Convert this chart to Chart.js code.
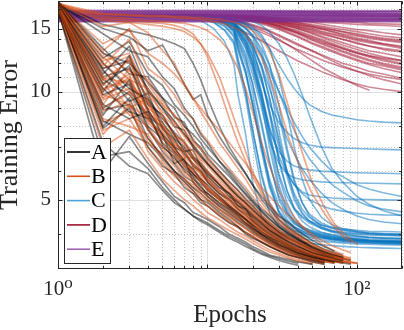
<!DOCTYPE html>
<html><head><meta charset="utf-8">
<script src="https://cdn.jsdelivr.net/npm/chart.js@4.4.1/dist/chart.umd.min.js"></script>
<style>html,body{margin:0;padding:0;background:#fff;}canvas{display:block;}</style>
</head><body>
<canvas id="c" width="404" height="330"></canvas>
<script>
// ---------- data ----------
const seriesNames = ['A', 'B', 'C', 'D', 'E'];
const xTickValues = [1, 100];
const xTickLabels = ['10⁰', '10²'];
const yTickValues = [5, 10, 15];
const yTickLabels = ['5', '10', '15'];

const epochsAB = [1,2,3,4,5,6,7,8,9,10,12,14,16,18,20,23,26,30,35,40,50,60,70,80,90,100];
const runsA = [
 [17.6,10.5,11.8,8.9,7.6,7.0,6.4,6.1,5.7,5.5,5.1,4.8,4.6,4.4,4.2,4.0,3.9,3.75,3.65,3.55,3.45,3.4,3.35],
 [17.2,8.0,9.6,7.4,6.6,6.0,5.6,5.3,5.0,4.9,4.6,4.4,4.2,4.0,3.9,3.8,3.7,3.6,3.5,3.45,3.38,3.33],
 [17.8,12.0,10.2,9.5,8.2,7.4,7.0,6.5,6.2,5.9,5.5,5.1,4.9,4.7,4.5,4.3,4.1,3.95,3.8,3.7,3.55,3.48,3.42,3.38],
 [16.9,6.0,7.5,6.3,5.6,5.1,4.9,4.6,4.5,4.4,4.2,4.0,3.9,3.8,3.7,3.6,3.5,3.45,3.4,3.35,3.3],
 [17.5,11.2,13.4,10.0,9.0,8.0,7.8,7.0,6.6,6.3,5.8,5.4,5.1,4.9,4.7,4.45,4.25,4.05,3.9,3.8,3.62,3.52,3.45],
 [17.0,9.2,8.4,8.8,7.1,6.5,6.1,5.8,5.4,5.2,4.9,4.7,4.5,4.3,4.15,4.0,3.85,3.72,3.62,3.55,3.45,3.38],
 [17.7,10.0,12.6,9.2,8.6,7.6,6.8,6.9,6.2,5.8,5.4,5.2,4.8,4.7,4.4,4.2,4.05,3.9,3.75,3.65,3.5,3.42,3.37,3.33,3.3],
 [17.3,7.9,9.0,7.0,6.2,5.9,5.4,5.2,4.9,4.8,4.5,4.3,4.2,4.05,3.95,3.8,3.7,3.6,3.5,3.45,3.35,3.3],
 [17.6,14.5,13.0,12.5,11.0,10.2,9.0,8.4,7.6,7.2,6.4,6.0,5.6,5.3,5.0,4.7,4.5,4.25,4.05,3.9,3.7,3.58,3.5,3.45],
 [17.1,9.8,10.5,8.0,7.4,6.8,6.3,5.9,5.6,5.3,5.0,4.75,4.55,4.4,4.25,4.05,3.92,3.8,3.68,3.6,3.48,3.4,3.35],
 [17.4,11.5,9.4,9.9,7.9,7.3,6.7,6.3,6.0,5.6,5.2,5.0,4.7,4.55,4.35,4.15,4.0,3.85,3.72,3.62,3.5,3.42],
 [16.8,7.2,6.2,5.9,5.3,4.9,4.7,4.5,4.4,4.3,4.1,3.95,3.85,3.75,3.65,3.55,3.48,3.42,3.36,3.32],
 [17.9,12.8,12.0,10.6,9.6,8.5,8.2,7.3,7.0,6.5,6.0,5.6,5.3,5.0,4.8,4.5,4.3,4.1,3.95,3.85,3.65,3.55,3.48,3.42,3.38],
 [17.2,8.6,10.8,7.8,7.0,6.6,6.0,5.7,5.5,5.1,4.8,4.6,4.4,4.25,4.1,3.95,3.82,3.7,3.6,3.52,3.42,3.36,3.32],
 [17.5,15.0,14.2,13.0,13.5,11.8,10.5,9.5,9.8,8.6,7.5,6.8,6.3,5.9,5.5,5.1,4.8,4.5,4.3,4.1,3.85,3.7,3.6],
 [17.0,10.2,8.8,8.4,7.6,6.3,6.5,5.6,5.3,5.2,4.85,4.65,4.45,4.3,4.15,3.98,3.86,3.74,3.64,3.56,3.46,3.4,3.36,3.33],
 [17.4,9.0,10.0,8.6,7.2,6.7,6.2,5.9,5.6,5.35,5.0,4.75,4.55,4.4,4.25,4.06,3.93,3.8,3.68,3.6,3.48,3.41,3.36],
 [17.6,11.0,11.6,9.6,8.4,7.7,7.2,6.6,6.3,6.0,5.5,5.2,4.95,4.75,4.55,4.35,4.18,4.0,3.86,3.76,3.6,3.5,3.44,3.4],
 [17.1,8.3,7.6,7.2,6.5,6.0,5.7,5.4,5.2,5.0,4.7,4.5,4.32,4.18,4.05,3.9,3.78,3.67,3.56,3.49,3.4,3.34],
 [17.8,13.2,11.2,11.0,9.6,9.0,8.0,7.6,7.2,6.7,6.2,5.8,5.45,5.15,4.9,4.62,4.4,4.18,4.0,3.88,3.68,3.57,3.5,3.45],
 [17.3,10.8,9.8,8.5,8.0,7.0,6.8,6.2,6.0,5.7,5.3,5.0,4.8,4.6,4.45,4.25,4.1,3.94,3.8,3.7,3.55,3.46,3.4],
 [17.5,12.4,13.8,11.2,10.4,9.2,8.6,8.0,7.4,7.0,6.4,5.9,5.5,5.2,4.95,4.65,4.42,4.2,4.0,3.88,3.68,3.56,3.49,3.44],
 [17.0,8.9,9.2,7.9,6.8,6.3,5.8,5.6,5.3,5.1,4.78,4.56,4.38,4.24,4.1,3.94,3.82,3.7,3.59,3.51,3.41,3.35],
 [17.7,11.6,12.2,10.2,9.0,8.3,7.6,7.1,6.7,6.3,5.8,5.4,5.1,4.88,4.66,4.42,4.24,4.05,3.9,3.79,3.62,3.52,3.45,3.4],
 [16.9,6.6,6.8,6.1,5.4,5.0,4.7,4.5,4.35,4.25,4.05,3.9,3.8,3.7,3.62,3.52,3.45,3.38,3.32,3.28],
 [17.6,15.4,14.8,14.4,14.0,13.6,13.2,12.0,10.8,9.6,8.0,7.0,6.4,5.9,5.5,5.0,4.7,4.4,4.15,4.0,3.78,3.64,3.56,3.5]
];
const runsB = [
 [17.4,10.8,12.2,9.4,8.0,7.2,6.8,6.3,6.0,5.7,5.3,5.0,4.75,4.55,4.4,4.2,4.05,3.9,3.75,3.65,3.52,3.45,3.4],
 [17.0,9.0,9.9,7.8,6.9,6.4,5.9,5.6,5.3,5.1,4.8,4.55,4.4,4.25,4.1,3.95,3.82,3.7,3.6,3.52,3.42,3.36,3.32],
 [17.6,11.8,14.0,10.5,9.2,8.6,7.8,7.2,6.9,6.4,5.9,5.5,5.2,4.95,4.75,4.5,4.3,4.1,3.92,3.82,3.64,3.54,3.47,3.42,3.38],
 [17.2,8.4,8.0,7.6,6.4,5.9,5.6,5.3,5.0,4.8,4.55,4.35,4.2,4.05,3.95,3.82,3.72,3.62,3.52,3.46,3.38,3.32],
 [17.8,12.5,10.8,10.2,8.6,8.0,7.2,6.8,6.4,6.0,5.6,5.3,5.0,4.8,4.6,4.38,4.2,4.02,3.88,3.78,3.6,3.5,3.44,3.4],
 [17.3,10.0,11.2,8.3,7.7,6.9,6.5,6.0,5.8,5.4,5.1,4.85,4.65,4.45,4.3,4.12,3.98,3.84,3.7,3.62,3.5,3.42,3.38],
 [17.5,11.0,9.0,9.6,7.4,7.0,6.2,6.1,5.6,5.4,5.0,4.8,4.55,4.4,4.22,4.05,3.9,3.78,3.66,3.58,3.46,3.4,3.35,3.32],
 [16.9,7.6,9.2,6.8,6.1,5.6,5.3,5.0,4.8,4.6,4.4,4.2,4.05,3.95,3.85,3.72,3.62,3.54,3.46,3.4,3.32],
 [17.7,15.2,15.6,14.6,13.0,12.0,10.5,9.6,8.8,8.2,7.2,6.6,6.1,5.7,5.3,4.9,4.6,4.35,4.12,3.98,3.76,3.62,3.54,3.48,3.44],
 [17.1,9.5,10.2,8.6,7.2,6.7,6.2,5.8,5.6,5.3,5.0,4.7,4.5,4.35,4.18,4.0,3.88,3.75,3.64,3.56,3.45,3.38,3.34],
 [17.6,12.2,12.8,9.8,8.8,8.2,7.5,7.0,6.5,6.2,5.7,5.35,5.05,4.85,4.62,4.4,4.22,4.04,3.9,3.8,3.62,3.52,3.46,3.41],
 [17.5,16.0,15.8,15.6,15.5,15.3,15.0,14.5,13.6,12.5,10.2,8.4,7.2,6.4,5.8,5.2,4.8,4.4,4.1,3.95,3.7,3.58,3.5,3.45],
 [17.2,10.6,8.6,8.0,7.0,6.6,6.0,5.7,5.4,5.2,4.9,4.65,4.45,4.3,4.15,3.98,3.86,3.74,3.63,3.55,3.45,3.38,3.33],
 [17.4,9.2,11.6,8.8,7.9,7.4,6.6,6.5,6.0,5.7,5.3,5.05,4.8,4.6,4.42,4.22,4.06,3.9,3.76,3.67,3.53,3.45,3.4,3.36,3.33],
 [16.8,7.0,7.8,6.5,5.7,5.3,5.0,4.8,4.6,4.45,4.25,4.1,3.98,3.88,3.78,3.66,3.57,3.5,3.43,3.37,3.3],
 [17.6,16.2,16.0,15.8,15.7,15.6,15.5,15.3,15.1,14.8,14.0,13.0,11.6,10.2,8.8,7.2,6.2,5.3,4.7,4.35,3.95,3.72,3.6,3.52],
 [17.0,11.4,10.0,9.0,8.4,7.6,7.1,6.6,6.2,5.9,5.5,5.2,4.95,4.75,4.55,4.32,4.15,3.98,3.84,3.74,3.58,3.49,3.43,3.39],
 [17.5,10.4,12.4,8.6,8.2,7.1,6.9,6.2,5.9,5.6,5.2,4.95,4.7,4.5,4.35,4.15,4.0,3.86,3.73,3.64,3.5,3.43,3.38,3.35,3.32],
 [17.3,8.8,9.4,7.2,6.7,6.2,5.7,5.5,5.2,5.0,4.7,4.5,4.3,4.15,4.02,3.88,3.76,3.66,3.56,3.49,3.4,3.34],
 [17.6,13.6,14.8,12.8,12.0,11.2,10.4,9.6,9.0,8.5,7.8,7.2,6.7,6.3,5.9,5.4,5.1,4.8,4.5,4.3,4.0,3.82,3.7,3.62,3.56],
 [17.4,16.4,16.3,16.2,16.2,16.1,16.0,16.0,15.9,15.8,15.6,15.3,14.9,14.4,13.6,12.4,11.0,9.2,7.4,6.4,5.2,4.6,4.2,3.95,3.8],
 [17.1,9.6,11.0,8.2,7.5,6.9,6.4,6.0,5.7,5.45,5.05,4.8,4.6,4.42,4.28,4.1,3.96,3.83,3.7,3.62,3.5,3.43,3.39,3.36,3.34,3.32],
 [17.5,12.0,10.4,9.2,8.0,7.6,6.9,6.5,6.1,5.8,5.4,5.1,4.85,4.65,4.48,4.28,4.12,3.96,3.82,3.72,3.56,3.48,3.42,3.38,3.35,3.33],
 [17.3,10.2,10.8,8.9,7.8,7.1,6.6,6.2,5.9,5.6,5.2,4.9,4.7,4.5,4.35,4.15,4.0,3.86,3.73,3.64,3.51,3.44,3.39,3.36],
 [17.6,11.6,12.6,10.0,9.2,8.2,7.6,7.1,6.6,6.3,5.8,5.45,5.15,4.9,4.7,4.45,4.26,4.06,3.9,3.8,3.62,3.52,3.46,3.42,3.39],
 [17.0,8.2,8.8,7.4,6.6,6.0,5.7,5.4,5.1,4.95,4.65,4.45,4.28,4.14,4.02,3.88,3.76,3.65,3.55,3.48,3.39,3.33],
 [17.5,12.8,11.4,10.8,9.4,8.6,8.0,7.4,6.9,6.6,6.0,5.6,5.3,5.05,4.82,4.56,4.35,4.14,3.96,3.85,3.66,3.55,3.48,3.43,3.4],
 [17.2,9.8,9.2,8.4,7.5,6.8,6.4,5.9,5.7,5.4,5.05,4.8,4.58,4.42,4.28,4.1,3.96,3.82,3.7,3.61,3.49,3.42,3.37,3.34],
 [17.7,13.0,15.0,11.6,10.8,9.8,8.8,8.4,7.7,7.3,6.6,6.1,5.7,5.4,5.1,4.78,4.52,4.28,4.06,3.93,3.72,3.6,3.52,3.46,3.42],
 [17.1,7.8,8.4,7.0,6.3,5.8,5.5,5.2,5.0,4.8,4.52,4.32,4.17,4.04,3.93,3.8,3.7,3.6,3.5,3.44,3.35,3.3],
 [17.5,15.8,15.6,15.4,15.2,15.0,14.7,14.2,13.6,12.8,11.0,9.2,7.8,6.8,6.0,5.3,4.9,4.5,4.2,4.02,3.76,3.62,3.54,3.48],
 [17.4,10.9,10.6,9.3,8.6,7.5,7.3,6.6,6.3,5.95,5.5,5.2,4.92,4.7,4.52,4.3,4.13,3.96,3.82,3.72,3.56,3.47,3.41,3.37,3.34,3.32],
 [17.6,16.5,16.4,16.3,16.3,16.2,16.2,16.1,16.1,16.0,15.9,15.7,15.5,15.2,14.8,14.0,13.0,11.2,9.0,7.4,5.6,4.8,4.3,4.05,3.88,3.76]
];

const epochsC = [1,5,9,11,13,15,16,18,20,23,26,30,34,38,43,48,58,68,80,100,120,150,200];
const runsC = [
 [16.2,16.2,15.8,15.0,13.8,12.0,9.8,7.6,5.6,4.5,4.15,3.98,3.9,3.85,3.8,3.78,3.74,3.72,3.7,3.68,3.67,3.66,3.65],
 [16.3,16.3,16.0,15.6,14.8,13.6,11.8,9.6,7.4,5.4,4.6,4.2,4.05,3.95,3.9,3.86,3.82,3.8,3.78,3.76,3.75,3.74,3.73],
 [16.2,16.2,16.1,15.9,15.5,14.8,13.6,12.0,10.0,7.2,5.6,4.6,4.25,4.1,4.0,3.95,3.9,3.86,3.84,3.82,3.8,3.79,3.78],
 [16.3,16.3,16.2,16.0,15.8,15.3,14.6,13.5,12.0,9.6,7.4,5.5,4.7,4.35,4.15,4.05,3.95,3.9,3.87,3.84,3.82,3.8,3.79],
 [16.2,16.2,16.1,16.0,15.9,15.6,15.1,14.3,13.2,11.0,8.8,6.5,5.3,4.7,4.35,4.2,4.05,3.98,3.93,3.88,3.85,3.83,3.82],
 [16.3,16.3,16.2,16.1,16.0,15.8,15.5,15.0,14.2,12.6,10.5,7.8,6.0,5.1,4.6,4.35,4.15,4.05,4.0,3.95,3.92,3.9,3.88],
 [16.2,16.2,16.2,16.1,16.0,15.9,15.7,15.4,14.8,13.6,11.9,9.2,7.0,5.7,4.9,4.5,4.2,4.08,4.02,3.96,3.93,3.91,3.9],
 [16.3,16.3,16.2,16.1,15.9,15.6,15.1,14.4,13.4,11.8,10.2,8.5,7.4,6.7,6.1,5.7,5.2,4.9,4.7,4.5,4.4,4.33,4.28],
 [16.2,16.2,16.0,15.7,15.2,14.4,13.0,11.2,9.2,7.0,5.7,4.8,4.4,4.2,4.08,4.0,3.92,3.87,3.84,3.8,3.78,3.77,3.76],
 [16.3,16.3,16.2,16.1,16.0,15.9,15.7,15.4,15.0,14.2,13.2,11.9,10.9,10.2,9.6,9.2,8.8,8.6,8.5,8.35,8.28,8.22,8.18],
 [16.2,16.2,16.1,16.0,15.8,15.4,14.8,13.8,12.5,10.6,9.2,8.2,7.7,7.4,7.2,7.1,7.0,6.98,6.96,6.94,6.92,6.9,6.88],
 [16.3,16.3,16.2,16.0,15.7,15.2,14.4,13.2,11.6,9.4,7.8,6.8,6.4,6.2,6.1,6.05,6.0,5.98,5.96,5.94,5.93,5.92,5.9],
 [16.2,16.2,16.1,15.9,15.6,15.0,14.1,12.8,11.2,9.0,7.3,6.3,5.9,5.75,5.68,5.64,5.6,5.58,5.57,5.56,5.55,5.54,5.53],
 [16.3,16.3,16.2,16.1,15.9,15.5,14.9,14.0,12.8,10.8,8.8,7.0,6.0,5.5,5.25,5.15,5.08,5.05,5.03,5.01,5.0,4.99,4.98],
 [16.2,16.2,16.2,16.1,16.0,15.7,15.3,14.6,13.6,11.8,9.6,7.2,5.8,5.0,4.55,4.35,4.18,4.1,4.06,4.02,4.0,3.98,3.97],
 [16.3,16.3,16.2,16.2,16.1,16.0,15.8,15.6,15.2,14.4,13.2,11.0,8.8,7.0,5.7,5.0,4.45,4.25,4.15,4.08,4.04,4.02,4.0],
 [16.2,16.2,16.1,15.8,15.3,14.2,12.4,10.0,7.8,5.9,4.9,4.4,4.2,4.1,4.03,3.98,3.92,3.88,3.86,3.84,3.83,3.82,3.81],
 [16.3,16.3,16.2,16.2,16.2,16.1,16.0,15.9,15.7,15.3,14.7,13.6,12.4,11.2,9.8,8.6,7.0,6.1,5.6,5.1,4.85,4.65,4.5],
 [16.2,16.2,16.1,16.0,15.7,15.1,14.0,12.5,10.5,8.0,6.3,5.1,4.6,4.35,4.2,4.12,4.04,3.99,3.96,3.93,3.91,3.9,3.89],
 [16.3,16.3,16.2,16.1,16.0,15.7,15.2,14.5,13.5,11.6,9.6,7.4,6.0,5.2,4.7,4.45,4.25,4.15,4.1,4.05,4.02,4.0,3.99],
 [16.2,16.2,16.1,16.0,15.8,15.5,15.1,14.5,13.8,12.6,11.4,10.0,9.0,8.2,7.5,7.0,6.4,6.0,5.8,5.5,5.35,5.22,5.1],
 [16.3,16.3,16.2,16.0,15.6,14.8,13.4,11.4,9.2,6.8,5.4,4.6,4.3,4.15,4.06,4.0,3.93,3.89,3.86,3.83,3.81,3.8,3.79],
 [16.2,16.2,16.1,16.0,15.8,15.3,14.5,13.3,11.8,9.3,7.0,5.3,4.6,4.3,4.15,4.06,3.96,3.91,3.88,3.85,3.83,3.82,3.81],
 [16.3,16.3,16.2,16.1,15.9,15.6,15.0,14.0,12.6,10.0,7.8,5.8,4.9,4.45,4.2,4.1,4.0,3.94,3.9,3.86,3.84,3.83,3.82],
 [16.2,16.2,16.0,15.6,14.9,13.8,12.2,10.0,7.9,5.8,4.8,4.3,4.12,4.02,3.96,3.92,3.86,3.83,3.81,3.79,3.78,3.77,3.76],
 [16.3,16.3,16.2,16.2,16.1,15.9,15.6,15.1,14.4,12.9,11.0,8.6,6.8,5.6,4.9,4.55,4.3,4.18,4.12,4.06,4.03,4.01,4.0],
 [16.2,16.2,16.1,15.9,15.6,14.9,13.8,12.3,10.6,8.2,6.4,5.0,4.5,4.28,4.16,4.08,4.0,3.95,3.92,3.89,3.87,3.86,3.85],
 [16.3,16.3,16.2,16.1,15.9,15.5,14.8,13.7,12.2,9.8,8.0,6.6,5.9,5.5,5.2,5.0,4.8,4.7,4.64,4.58,4.55,4.53,4.52],
 [16.2,16.2,16.1,16.0,15.8,15.4,14.7,13.6,12.1,9.8,7.6,5.9,5.1,4.7,4.48,4.36,4.24,4.18,4.14,4.1,4.08,4.07,4.06],
 [16.3,16.3,16.2,16.1,15.9,15.6,15.1,14.3,13.1,10.9,8.6,6.4,5.3,4.75,4.45,4.3,4.15,4.08,4.04,4.0,3.98,3.97,3.96],
 [16.2,16.2,16.1,15.9,15.5,14.6,13.2,11.4,9.4,7.0,5.5,4.65,4.35,4.2,4.1,4.04,3.97,3.93,3.9,3.87,3.85,3.84,3.83],
 [16.3,16.3,16.2,16.1,16.0,15.8,15.5,15.0,14.4,13.2,11.8,10.0,8.7,7.8,7.0,6.5,5.9,5.5,5.25,4.95,4.8,4.7,4.62]
];

const epochsD = [1,5,10,15,20,25,30,40,50,60,80,100,120,150,200];
const runsD = [
 [16.3,16.3,16.3,16.2,16.0,15.8,15.6,15.2,14.9,14.6,14.2,13.9,13.7,13.5,13.2],
 [16.3,16.3,16.1,15.6,15.0,14.4,13.9,13.1,12.6,12.2,11.7,11.4,11.2,11.0,10.8],
 [16.3,16.3,16.3,16.3,16.2,16.1,16.0,15.8,15.7,15.6,15.5,15.4,15.35,15.3,15.2],
 [16.3,16.3,16.3,16.1,15.9,15.6,15.3,14.8,14.3,13.9,13.3,12.9,12.6,12.3,12.0],
 [16.3,16.3,16.0,15.2,14.3,13.6,13.0,12.2,11.7,11.3,10.8,10.5,10.3,10.15,10.0],
 [16.3,16.3,16.3,16.2,16.1,15.9,15.7,15.4,15.1,14.9,14.5,14.3,14.1,13.9,13.7],
 [16.3,16.3,16.3,16.2,16.0,15.7,15.4,15.0,14.6,14.2,13.7,13.3,13.0,12.8,12.5],
 [16.3,16.3,16.3,16.3,16.2,16.1,16.0,15.8,15.6,15.4,15.1,14.9,14.8,14.6,14.4],
 [16.3,16.3,16.2,16.1,15.8,15.5,15.1,14.5,13.9,13.5,12.9,12.5,12.2,11.9,11.6],
 [16.3,16.3,16.3,16.2,16.1,16.0,15.9,15.6,15.4,15.2,14.9,14.7,14.5,14.3,14.1],
 [16.3,16.3,16.3,16.2,15.9,15.6,15.2,14.6,14.1,13.7,13.2,12.8,12.6,12.4,12.2],
 [16.3,16.3,16.2,15.8,15.3,14.8,14.3,13.5,13.0,12.6,12.0,11.7,11.4,11.2,10.9],
 [16.3,16.3,16.3,16.3,16.2,16.2,16.1,16.0,15.9,15.8,15.7,15.6,15.5,15.45,15.4],
 [16.3,16.3,16.3,16.2,16.1,15.9,15.6,15.2,14.8,14.5,14.0,13.6,13.4,13.1,12.9],
 [16.3,16.3,16.2,15.8,15.2,14.6,14.0,13.0,12.2,11.6,10.9,10.4,10.1],
 [16.3,16.3,16.3,16.1,15.8,15.4,15.0,14.3,13.7,13.3,12.7,12.3,12.0,11.8,11.5],
 [16.3,16.3,16.3,16.2,16.1,15.9,15.7,15.3,15.0,14.7,14.3,14.0,13.8,13.6,13.4],
 [16.3,16.3,16.3,16.2,16.0,15.8,15.5,15.1,14.7,14.4,14.0,13.7,13.4,13.2,13.0],
 [16.3,16.3,16.3,16.2,16.0,15.7,15.3,14.7,14.2,13.8,13.2,12.8,12.5,12.2,11.9],
 [16.3,16.3,16.3,16.3,16.2,16.0,15.8,15.5,15.2,14.9,14.4,14.1,13.9,13.6,13.3],
 [16.3,16.3,16.2,16.0,15.7,15.3,14.9,14.2,13.6,13.2,12.6,12.2,11.9,11.6,11.3],
 [16.3,16.3,16.3,16.2,16.1,15.9,15.7,15.4,15.2,15.0,14.7,14.5,14.3,14.1,13.9],
 [16.3,16.3,16.3,16.1,15.8,15.5,15.2,14.6,14.0,13.6,13.0,12.6,12.3,12.0,11.7],
 [16.3,16.3,16.3,16.3,16.2,16.1,15.9,15.6,15.3,15.1,14.7,14.4,14.2,14.0,13.8],
 [16.3,16.3,16.2,15.9,15.4,14.9,14.4,13.6,13.0,12.5,11.8,11.4,11.1,10.8,10.5],
 [16.3,16.3,16.3,16.2,16.0,15.8,15.5,15.0,14.5,14.1,13.5,13.1,12.8,12.5,12.2]
];

const epochsE = [1,10,50,200];
const runsE = [
 [16.6,16.6,16.6,16.5],[16.4,16.4,16.35,16.3],[16.2,16.2,16.2,16.2],[16.0,16.0,16.0,15.95],
 [15.8,15.8,15.8,15.8],[16.7,16.7,16.7,16.7],[16.3,16.3,16.3,16.25],[15.9,15.9,15.9,15.9],
 [16.1,16.1,16.1,16.1],[16.5,16.5,16.5,16.45],[15.7,15.7,15.7,15.7],[16.8,16.8,16.75,16.75]
];

// ---------- styling ----------
const lineColors = {
  A: 'rgba(0,0,0,0.45)',
  B: 'rgba(217,83,25,0.5)',
  C: 'rgba(0,114,189,0.5)',
  D: 'rgba(162,20,47,0.5)',
  E: 'rgba(126,47,142,0.75)'
};
const legendColors = ['#000000', '#D95319', '#4DA3D9', '#A2142F', '#A066B4'];
const FONT = "'Liberation Serif', 'DejaVu Serif', serif";
const INK = '#262626';
const Y_MIN = 3.2, Y_MAX = 17.9, X_MIN = 1, X_MAX = 200;

function mk(epochs, run) { return run.map((v, i) => ({ x: epochs[i], y: v })); }
function ds(name, epochs, run, w) {
  return { label: name, data: mk(epochs, run), borderColor: lineColors[name],
    borderWidth: w, pointRadius: 0, tension: 0, fill: false };
}

const datasets = [];
const nAB = Math.max(runsA.length, runsB.length);
for (let i = 0; i < nAB; i++) {
  if (runsB[i]) datasets.push(ds('B', epochsAB, runsB[i], 1.7));
  if (runsA[i]) datasets.push(ds('A', epochsAB, runsA[i], 1.7));
}
runsE.forEach(r => datasets.push(ds('E', epochsE, r, 2)));
runsC.forEach(r => datasets.push(ds('C', epochsC, r, 1.6)));
runsD.forEach(r => datasets.push(ds('D', epochsD, r, 1.6)));

const xMinor = [2,3,4,5,6,7,8,9,20,30,40,50,60,70,80,90,200];
const xMajor = [1,10,100];
const yMinor = [4,6,7,8,9,11,12,13,14,16,17];
const yMajor = [5,10,15];

const framePlugin = {
  id: 'frame',
  beforeDatasetsDraw(chart) {
    const { ctx, chartArea: a, scales: { x, y } } = chart;
    ctx.save();
    ctx.lineWidth = 1;
    ctx.setLineDash([1, 2]);
    ctx.strokeStyle = 'rgba(0,0,0,0.22)';
    xMinor.forEach(v => { const p = Math.round(x.getPixelForValue(v)) + 0.5;
      ctx.beginPath(); ctx.moveTo(p, a.top); ctx.lineTo(p, a.bottom); ctx.stroke(); });
    yMinor.forEach(v => { const p = Math.round(y.getPixelForValue(v)) + 0.5;
      ctx.beginPath(); ctx.moveTo(a.left, p); ctx.lineTo(a.right, p); ctx.stroke(); });
    ctx.setLineDash([]);
    ctx.strokeStyle = 'rgba(0,0,0,0.12)';
    xMajor.forEach(v => { const p = Math.round(x.getPixelForValue(v)) + 0.5;
      ctx.beginPath(); ctx.moveTo(p, a.top); ctx.lineTo(p, a.bottom); ctx.stroke(); });
    yMajor.forEach(v => { const p = Math.round(y.getPixelForValue(v)) + 0.5;
      ctx.beginPath(); ctx.moveTo(a.left, p); ctx.lineTo(a.right, p); ctx.stroke(); });
    ctx.restore();
  },
  afterDatasetsDraw(chart) {
    const { ctx, chartArea: a, scales: { x, y } } = chart;
    ctx.save();
    ctx.strokeStyle = INK; ctx.lineWidth = 1;
    const L = Math.round(a.left) + 0.5, R = Math.round(a.right) - 0.5;
    const T = Math.round(a.top) + 0.5, B = Math.round(a.bottom) - 0.5;
    ctx.strokeRect(L, T, R - L, B - T);
    const tick = (vals, len) => {
      vals.forEach(v => { const p = Math.round(x.getPixelForValue(v)) + 0.5;
        ctx.beginPath(); ctx.moveTo(p, B); ctx.lineTo(p, B - len);
        ctx.moveTo(p, T); ctx.lineTo(p, T + len); ctx.stroke(); });
    };
    const ticky = (vals, len) => {
      vals.forEach(v => { const p = Math.round(y.getPixelForValue(v)) + 0.5;
        ctx.beginPath(); ctx.moveTo(L, p); ctx.lineTo(L + len, p);
        ctx.moveTo(R, p); ctx.lineTo(R - len, p); ctx.stroke(); });
    };
    tick(xMajor, 4); tick(xMinor, 2.5); ticky(yMajor, 4); ticky(yMinor, 2.5);
    // legend
    const lx = 64.5, ly = 138.5, lw = 46, lh = 125;
    ctx.fillStyle = '#fff'; ctx.fillRect(lx, ly, lw, lh);
    ctx.strokeStyle = INK; ctx.strokeRect(lx, ly, lw, lh);
    ctx.font = '22px ' + FONT; ctx.textBaseline = 'middle'; ctx.textAlign = 'left';
    seriesNames.forEach((n, i) => {
      const cy = 152 + i * 24.3;
      ctx.strokeStyle = legendColors[i]; ctx.lineWidth = 1.6;
      ctx.beginPath(); ctx.moveTo(67, cy); ctx.lineTo(90, cy); ctx.stroke();
      ctx.fillStyle = '#000'; ctx.fillText(n, 91, cy + 1);
    });
    ctx.restore();
  }
};

new Chart(document.getElementById('c'), {
  type: 'line',
  data: { datasets },
  options: {
    responsive: false, animation: false, devicePixelRatio: 1,
    layout: { padding: { top: 1, right: 2, left: 0, bottom: 0 } },
    plugins: { legend: { display: false }, tooltip: { enabled: false } },
    elements: { line: { borderCapStyle: 'round', borderJoinStyle: 'round' } },
    scales: {
      x: {
        type: 'logarithmic', min: X_MIN, max: X_MAX,
        afterFit(s) { s.height = 61; s.paddingLeft = 0; s.paddingRight = 0; },
        afterBuildTicks(s) { s.ticks = xTickValues.map(v => ({ value: v })); },
        grid: { display: false, drawTicks: false, tickLength: 0 },
        border: { display: false },
        ticks: { autoSkip: false, maxRotation: 0, padding: 8, color: INK,
          font: { family: FONT, size: 21 },
          callback: (v) => { const i = xTickValues.indexOf(v); return i >= 0 ? xTickLabels[i] : ''; } },
        title: { display: true, text: 'Epochs', color: INK,
          font: { family: FONT, size: 25, lineHeight: 1.2 }, padding: { top: 0, bottom: 0 } }
      },
      y: {
        type: 'logarithmic', min: Y_MIN, max: Y_MAX,
        afterFit(s) { s.width = 58; s.paddingTop = 0; s.paddingBottom = 0; },
        afterBuildTicks(s) { s.ticks = yTickValues.map(v => ({ value: v })); },
        grid: { display: false, drawTicks: false, tickLength: 0 },
        border: { display: false },
        ticks: { autoSkip: false, padding: 7, color: INK,
          font: { family: FONT, size: 21 },
          callback: (v) => { const i = yTickValues.indexOf(v); return i >= 0 ? yTickLabels[i] : ''; } },
        title: { display: true, text: 'Training Error', color: INK,
          font: { family: FONT, size: 26, lineHeight: 0.8 }, padding: 0 }
      }
    }
  },
  plugins: [framePlugin]
});
</script>
</body></html>
